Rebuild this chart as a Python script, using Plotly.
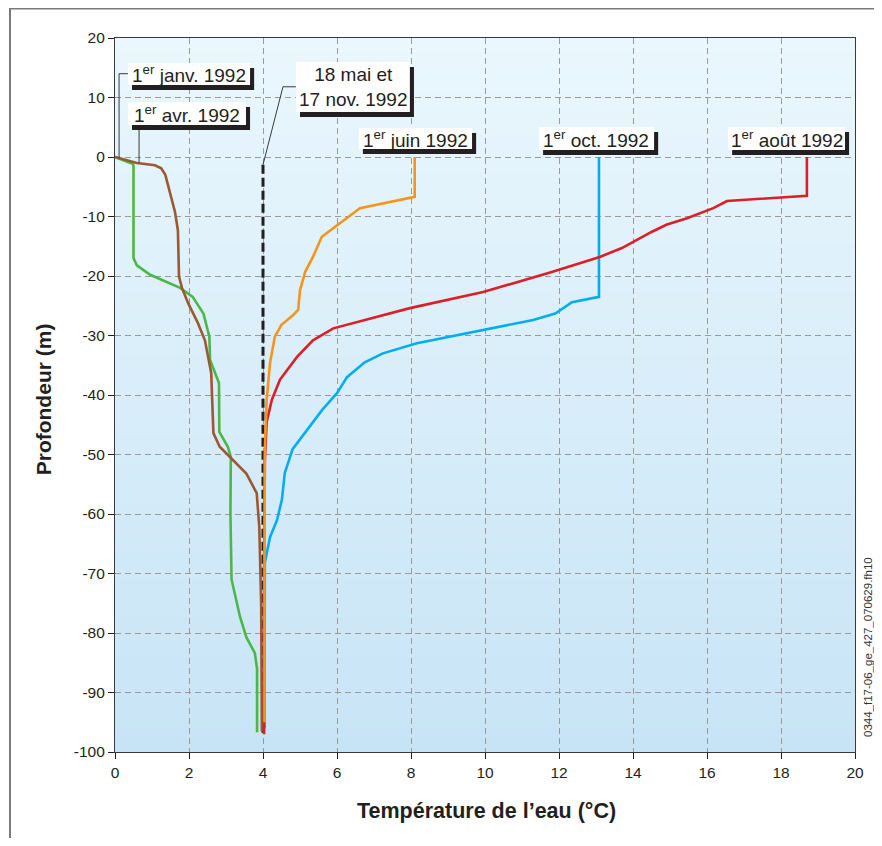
import plotly.graph_objects as go

# ---------------- data ----------------
janv_T = [0, 0.59, 1.08, 1.25, 1.36, 1.44, 1.52, 1.62, 1.70, 1.73, 1.81, 1.98, 2.24, 2.43, 2.60, 2.64, 2.66, 2.83, 3.10, 3.55, 3.83, 3.90, 3.95, 3.97]
janv_D = [0, -1.0, -1.4, -1.9, -3.0, -4.8, -7.0, -9.2, -12.3, -20.1, -22.0, -24.6, -27.9, -30.8, -36.3, -42.0, -46.4, -48.7, -50.4, -53.2, -56.5, -62.2, -75.0, -96.5]

avr_T = [0, 0.49, 0.50, 0.50, 0.59, 0.95, 1.76, 2.10, 2.39, 2.55, 2.57, 2.70, 2.81, 2.82, 3.05, 3.13, 3.12, 3.15, 3.38, 3.55, 3.78, 3.84, 3.84]
avr_D = [0, -1.2, -1.5, -17.0, -18.2, -19.8, -22.0, -23.5, -26.3, -30.2, -34.1, -36.3, -38.0, -46.2, -48.7, -50.4, -60.0, -71.0, -77.3, -80.7, -83.4, -86.0, -96.7]

mai_nov_T = [4.0, 4.0]
mai_nov_D = [-1.3, -97.0]

juin_T = [8.10, 8.10, 6.62, 6.00, 5.59, 5.35, 5.14, 5.00, 4.95, 4.81, 4.50, 4.32, 4.19, 4.10, 4.05, 4.04, 4.04]
juin_D = [0, -6.7, -8.6, -11.4, -13.4, -16.8, -19.3, -22.4, -25.7, -26.6, -28.2, -30.2, -34.6, -40.8, -49.2, -70.0, -95.0]

aout_T = [18.7, 18.7, 16.54, 16.17, 15.46, 14.9, 14.5, 14.0, 13.7, 13.1, 11.76, 9.95, 7.97, 5.90, 5.35, 4.92, 4.46, 4.24, 4.10, 4.05, 4.03, 4.03]
aout_D = [0, -6.5, -7.4, -8.6, -10.3, -11.4, -12.6, -14.3, -15.3, -16.8, -19.4, -22.7, -25.4, -28.8, -30.8, -33.6, -37.4, -40.8, -44.5, -51.0, -70.0, -97.0]

oct_T = [13.08, 13.08, 12.35, 12.16, 11.9, 11.3, 9.95, 8.16, 7.24, 6.75, 6.27, 6.00, 5.60, 5.20, 4.80, 4.59, 4.51, 4.38, 4.19, 4.05, 4.04, 4.04]
oct_D = [0, -23.5, -24.4, -25.2, -26.3, -27.4, -29.1, -31.3, -33.0, -34.5, -37.0, -39.7, -42.5, -45.8, -49.1, -53.1, -57.6, -61.0, -63.9, -68.2, -80.0, -96.0]

x_ticks = [0, 2, 4, 6, 8, 10, 12, 14, 16, 18, 20]
x_ticktext = ["0", "2", "4", "6", "8", "10", "12", "14", "16", "18", "20"]
y_ticks = [20, 10, 0, -10, -20, -30, -40, -50, -60, -70, -80, -90, -100]
y_ticktext = ["20", "10", "0", "-10", "-20", "-30", "-40", "-50", "-60", "-70", "-80", "-90", "-100"]

FONT = "Liberation Sans, Arial, Helvetica, sans-serif"
INK = "#231f20"

fig = go.Figure()

def add_line(T, D, color, width=2.6, dash=None):
    fig.add_trace(go.Scatter(x=T, y=D, mode="lines",
                             line=dict(color=color, width=width, dash=dash),
                             hoverinfo="skip", showlegend=False))

add_line(mai_nov_T, mai_nov_D, INK, width=3, dash="9px,4px")
add_line(avr_T, avr_D, "#4cb748")
add_line(janv_T, janv_D, "#9c5733")
add_line(oct_T, oct_D, "#00aeef")
add_line(aout_T, aout_D, "#dc1f26")
add_line(juin_T, juin_D, "#f7941d")

shapes = []
# background gradient (plot area)
n = 90
top = (234, 247, 253)
bot = (199, 228, 246)
for i in range(n):
    f = i / (n - 1)
    c = tuple(round(bot[k] + (top[k] - bot[k]) * f) for k in range(3))
    y0 = -100 + 120 * i / n
    y1 = -100 + 120 * (i + 1) / n
    shapes.append(dict(type="rect", xref="paper", yref="y", x0=0, x1=1, y0=y0, y1=y1 + 0.05,
                       fillcolor="rgb(%d,%d,%d)" % c, line=dict(width=0), layer="below"))

# outer frame
shapes.append(dict(type="rect", xref="paper", yref="paper", x0=-0.1419, x1=1.3, y0=-0.3, y1=1.0413,
                   line=dict(color="#7a7a7a", width=2), fillcolor="rgba(0,0,0,0)", layer="above"))

# leader lines
lead = dict(color="#3a3a3a", width=1)
shapes.append(dict(type="path", xref="x", yref="y", path="M 0.35 14.0 L 0.11 14.0 L 0.11 -0.2", line=lead, layer="above"))
shapes.append(dict(type="line", xref="x", yref="y", x0=0.65, x1=0.65, y0=5.4, y1=-1.0, line=lead, layer="above"))
shapes.append(dict(type="path", xref="x", yref="y", path="M 4.89 11.8 L 4.54 11.8 L 4.0 -1.3", line=lead, layer="above"))

# label boxes with drop shadow
dx, dy = 0.11, -0.85
boxes = [
    (0.35, 3.65, 12.1, 15.8),
    (0.35, 3.54, 5.38, 9.24),
    (4.89, 7.97, 7.56, 15.97),
    (6.59, 9.65, 1.34, 4.87),
    (11.46, 14.57, 1.18, 5.04),
    (16.57, 19.73, 1.18, 5.04),
]
for (x0, x1, y0, y1) in boxes:
    shapes.append(dict(type="rect", xref="x", yref="y", x0=x0 + dx, x1=x1 + dx, y0=y0 + dy, y1=y1 + dy,
                       fillcolor=INK, line=dict(width=0), layer="above"))
    shapes.append(dict(type="rect", xref="x", yref="y", x0=x0, x1=x1, y0=y0, y1=y1,
                       fillcolor="white", line=dict(width=0), layer="above"))

lab_font = dict(family=FONT, size=19, color=INK)
labels = [
    (2.0, 13.95, "1<sup>er</sup> janv. 1992"),
    (1.95, 7.3, "1<sup>er</sup> avr. 1992"),
    (6.43, 11.75, "18 mai et<br>17 nov. 1992"),
    (8.12, 3.1, "1<sup>er</sup> juin 1992"),
    (13.0, 3.1, "1<sup>er</sup> oct. 1992"),
    (18.15, 3.1, "1<sup>er</sup> août 1992"),
]
annotations = []
for (x, y, t) in labels:
    annotations.append(dict(x=x, y=y, xref="x", yref="y", text=t, showarrow=False,
                            xanchor="center", yanchor="middle", font=lab_font, align="center"))

# axis titles
annotations.append(dict(x=0.5025, y=-0.0826, xref="paper", yref="paper",
                        text="<b>Température de l’eau (°C)</b>", showarrow=False,
                        xanchor="center", yanchor="middle",
                        font=dict(family=FONT, size=21.5, color=INK)))
annotations.append(dict(x=-0.0973, y=0.494, xref="paper", yref="paper",
                        text="<b>Profondeur (m)</b>", showarrow=False, textangle=-90,
                        xanchor="center", yanchor="middle",
                        font=dict(family=FONT, size=21, color=INK)))

annotations.append(dict(x=1.0175, y=0.147, xref="paper", yref="paper", text="0344_f17-06_ge_427_070629.fh10",
                        showarrow=False, textangle=-90, xanchor="center", yanchor="middle",
                        font=dict(family=FONT, size=11.5, color="#333333")))

fig.update_layout(
    width=874, height=830,
    margin=dict(l=107, r=27, t=30, b=86),
    paper_bgcolor="white",
    plot_bgcolor="#d9eef9",
    shapes=shapes,
    annotations=annotations,
    showlegend=False,
    font=dict(family=FONT, size=14, color=INK),
)
fig.update_xaxes(range=[0, 20], tickvals=x_ticks, ticktext=x_ticktext,
                 showgrid=True, gridcolor="#9a9a9a", griddash="6px,4px", gridwidth=1,
                 showline=True, linecolor="#3a3a3a", linewidth=1.2, mirror=True,
                 ticks="outside", ticklen=6, tickcolor=INK,
                 tickfont=dict(family=FONT, size=15.5, color=INK),
                 zeroline=False)
fig.update_yaxes(range=[-100, 20], tickvals=y_ticks, ticktext=y_ticktext,
                 showgrid=True, gridcolor="#9a9a9a", griddash="6px,4px", gridwidth=1,
                 showline=True, linecolor="#3a3a3a", linewidth=1.2, mirror=True,
                 ticks="outside", ticklen=6, tickcolor=INK,
                 tickfont=dict(family=FONT, size=15.5, color=INK),
                 zeroline=False)

fig.write_html("out.html")
